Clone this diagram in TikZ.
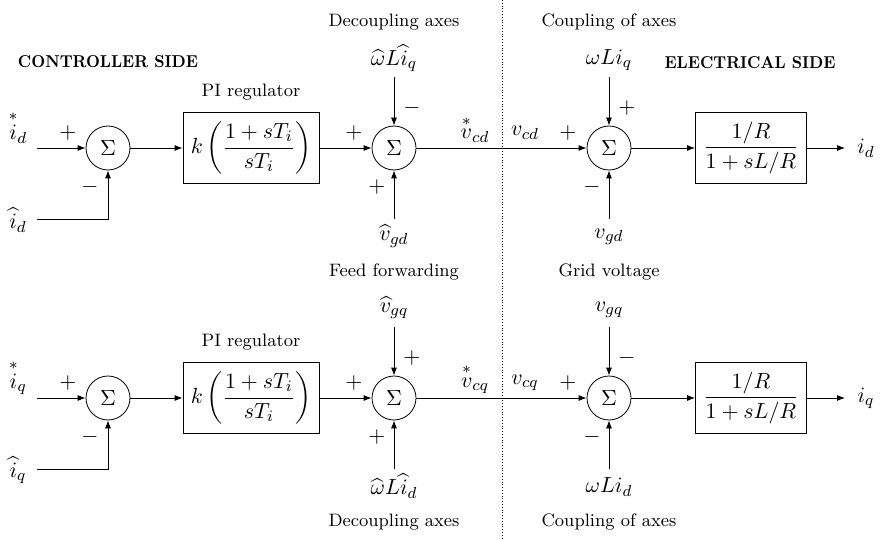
\documentclass[tikz,border=0pt]{standalone}
\usepackage{amsmath}
\usetikzlibrary{arrows.meta}
\begin{document}
\begin{tikzpicture}[x=0.5pt,y=-0.5pt,
  font=\fontsize{11}{13}\selectfont,
  sumnode/.style={draw,circle,minimum size=22pt,inner sep=0pt},
  blk/.style={draw,minimum height=35.5pt,inner sep=0pt},
  lbl/.style={inner sep=0pt},
  txt/.style={inner sep=0pt,font=\fontsize{9}{11}\selectfont},
  ttl/.style={inner sep=0pt,font=\fontsize{8.6}{11}\selectfont\bfseries,xscale=0.91},
  sig/.style={inner sep=0pt},
  arr/.style={-{Latex[length=4pt,width=3pt]}},
  sep/.style={densely dotted,line width=0.4pt}]
\useasboundingbox (0,0) rectangle (884,540);
\draw[sep] (502,0) coordinate (septop) -- (502,540) coordinate (sepbot);
\node[ttl] (ctrl) at (108,62) {CONTROLLER SIDE};
\node[ttl] (elec) at (750,63) {ELECTRICAL SIDE};
% ---------- rows ----------
\foreach \r/\yy/\tt/\tb/\ta/\ua/\ub/\uc in
  {d/148/{$\widehat{\omega}L\widehat{i}_q$}/{$\widehat{v}_{gd}$}/{$-$}/{$\omega L i_q$}/{$v_{gd}$}/{$+$},
   q/398/{$\widehat{v}_{gq}$}/{$\widehat{\omega}L\widehat{i}_d$}/{$+$}/{$v_{gq}$}/{$\omega L i_d$}/{$-$}}
{
  \begin{scope}[yshift=-(\yy-148)*0.5pt]
  \coordinate (in\r) at (37,148);
  \coordinate (fb\r) at (37,219);
  \node[sumnode] (sa\r) at (108,148) {$\Sigma$};
  \node[blk,minimum width=68pt] (pi\r) at (251,148) {$k\left(\dfrac{1+sT_i}{sT_i}\right)$};
  \node[sumnode] (sb\r) at (394,148) {$\Sigma$};
  \node[sumnode] (sc\r) at (609,148) {$\Sigma$};
  \node[blk,minimum width=55.5pt] (pl\r) at (751,148) {$\dfrac{1/R}{1+sL/R}$};
  \coordinate (out\r) at (845,148);
  \coordinate (tb\r) at (394,77);
  \coordinate (bb\r) at (394,219);
  \coordinate (tc\r) at (609,77);
  \coordinate (bc\r) at (609,219);
  \node[lbl] (lref\r) at (18,127) {$\overset{*}{i}_\r$};
  \node[lbl] (lfb\r) at (18,220) {$\widehat{i}_\r$};
  \node[sig] (p1\r) at (68,133) {$+$};
  \node[txt] (pil\r) at (251,92) {PI regulator};
  \node[sig] (p2\r) at (354,133) {$+$};
  \node[lbl] (ltb\r) at (394,58) {\tt};
  \node[lbl] (lbb\r) at (394,236) {\tb};
  \node[sig] (s2t\r) at (412,108) {\ta};
  \node[sig] (s2b\r) at (377,187) {$+$};
  \node[lbl] (lvs\r) at (475,129) {$\overset{*}{v}_{c\r}$};
  \node[lbl] (lv\r) at (525,133) {$v_{c\r}$};
  \node[sig] (p3\r) at (568,133) {$+$};
  \node[lbl] (ltc\r) at (609,60) {\ua};
  \node[lbl] (lbc\r) at (609,237) {\ub};
  \node[sig] (s3t\r) at (627,108) {\uc};
  \node[sig] (s3b\r) at (592,187) {$-$};
  \node[lbl] (lout\r) at (866,148) {$i_\r$};
  \node[sig] (m1\r) at (90,187) {$-$};
  \draw[arr] (in\r) -- (sa\r.west);
  \draw[arr] (fb\r) -| (sa\r.south);
  \draw[arr] (sa\r) -- (pi\r);
  \draw[arr] (pi\r) -- (sb\r);
  \draw[arr] (tb\r) -- (sb\r.north);
  \draw[arr] (bb\r) -- (sb\r.south);
  \draw[arr] (sb\r) -- (sc\r);
  \draw[arr] (tc\r) -- (sc\r.north);
  \draw[arr] (bc\r) -- (sc\r.south);
  \draw[arr] (sc\r) -- (pl\r);
  \draw[arr] (pl\r) -- (out\r);
  \end{scope}
}
\node[txt] (dec1) at (394,22) {Decoupling axes};
\node[txt] (cpl1) at (609,22) {Coupling of axes};
\node[txt] (ff) at (394,272) {Feed forwarding};
\node[txt] (gv) at (609,272) {Grid voltage};
\node[txt] (dec2) at (394,522) {Decoupling axes};
\node[txt] (cpl2) at (609,522) {Coupling of axes};
\end{tikzpicture}
\end{document}
